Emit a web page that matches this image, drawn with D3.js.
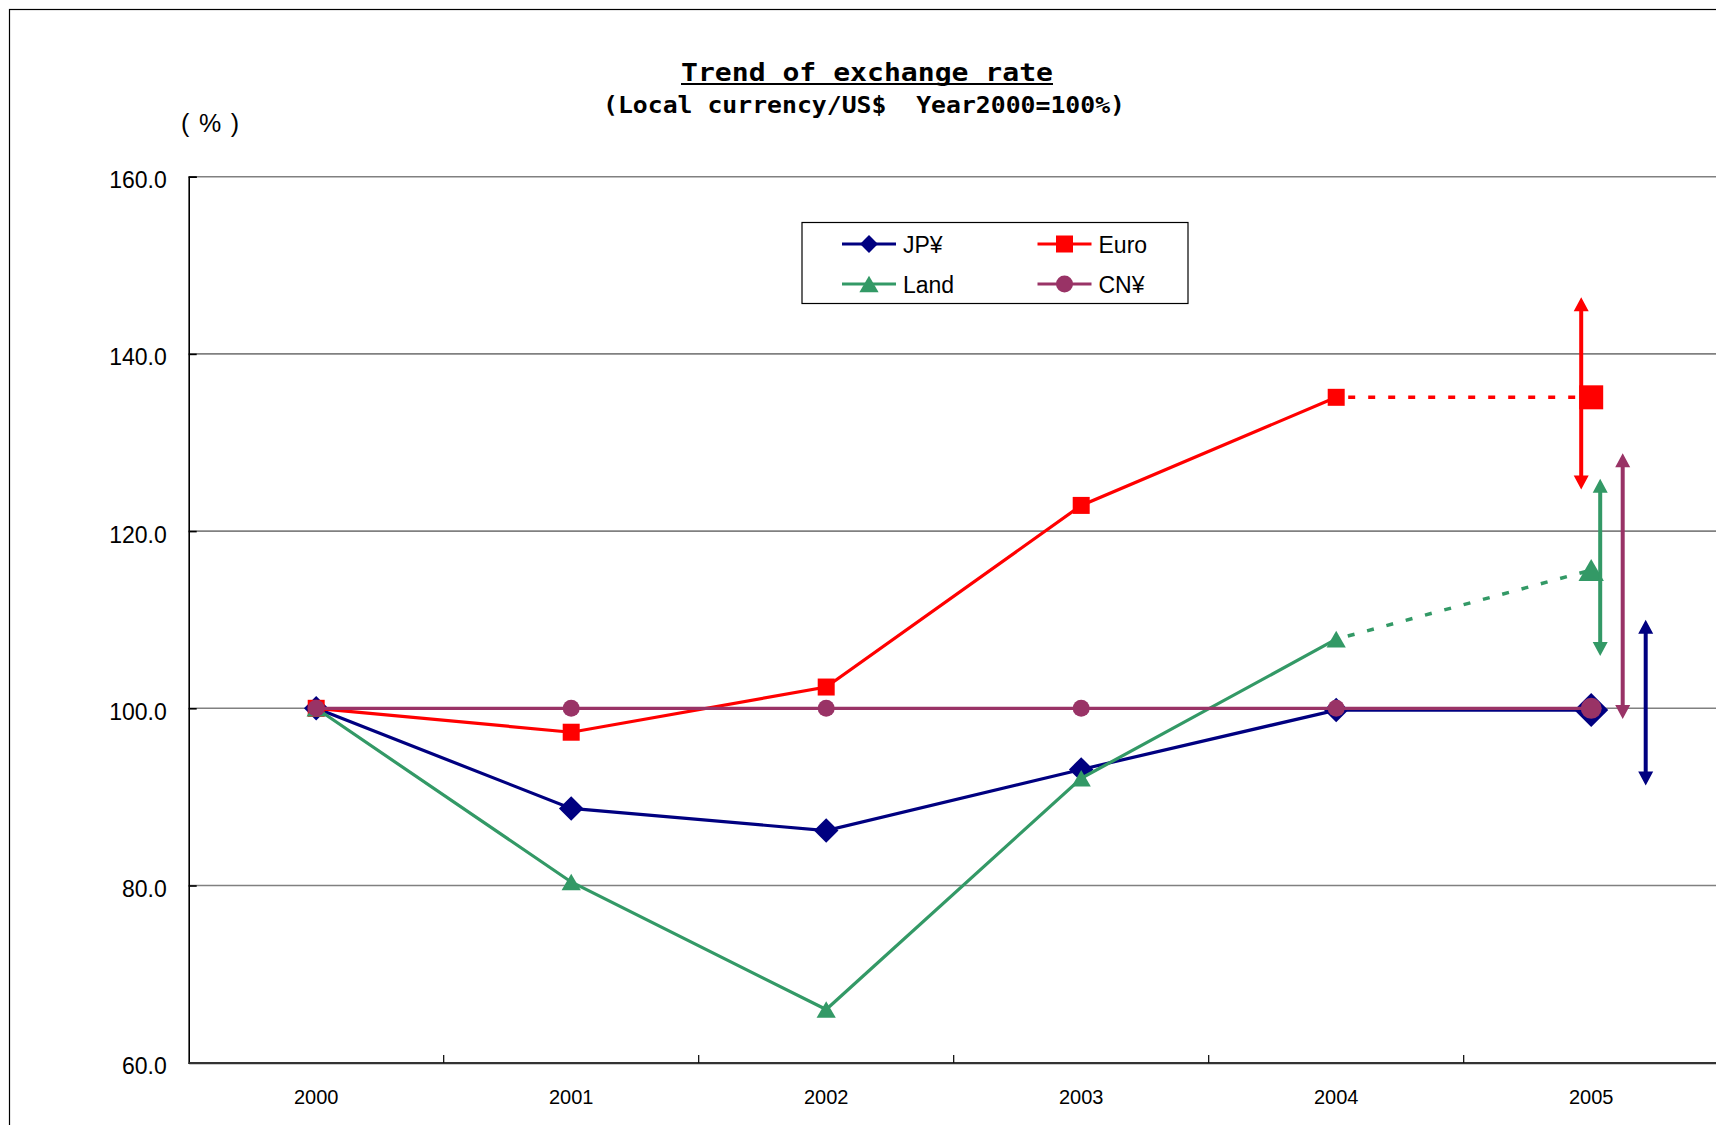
<!DOCTYPE html>
<html>
<head>
<meta charset="utf-8">
<script src="https://cdn.jsdelivr.net/npm/d3@7"></script>
<style>
  html, body { margin: 0; padding: 0; background: #fff; overflow: hidden; }
  svg { display: block; }
  text { white-space: pre; }
</style>
</head>
<body>
<svg id="chart" width="1716" height="1125"></svg>
<script>
// ---------- data ----------
const years = ["2000", "2001", "2002", "2003", "2004", "2005"];
const jpyValues  = [100, 88.7, 86.2, 93.1, 99.8, 99.8];
const euroValues = [100, 97.3, 102.4, 122.9, 135.1, 135.1];
const landValues = [100, 80.4, 66.0, 92.1, 107.8, 115.6];
const cnyValues  = [100, 100, 100, 100, 100, 100];
const seriesNames = ["JP¥", "Euro", "Land", "CN¥"];
const rangeHigh = [110.0, 146.4, 125.9, 128.8];   // forecast range arrows (upper end)
const rangeLow  = [91.3, 124.7, 105.9, 98.8];     // forecast range arrows (lower end)
const yTicks = [60, 80, 100, 120, 140, 160];
const titleText = "Trend of exchange rate";
const subtitleText = "(Local currency/US$\u00A0\u00A0Year2000=100%)";
const unitText = "(\u00A0%\u00A0)";

// ---------- styles ----------
const colors = ["#000080", "#FF0000", "#339966", "#993366"];
const symbols = [d3.symbolSquare, d3.symbolSquare, d3.symbolTriangle, d3.symbolCircle];
const rotate = [45, 0, 0, 0];
const markerSize = [300, 289, 160, 227];
const lastMarkerSize = [580, 576, 280, 346];
const dashedLast = [false, true, true, false];
const arrowOffset = [54.5, -10, 9, 31.5];

const seriesValues = [jpyValues, euroValues, landValues, cnyValues];

const svg = d3.select("#chart");

// outer chart border
svg.append("rect").attr("x", 9.5).attr("y", 9.5).attr("width", 1800).attr("height", 1200)
  .attr("fill", "none").attr("stroke", "#000").attr("stroke-width", 1.2);

const x = d3.scaleBand().domain(years).range([188.7, 1718.7]).padding(0);
const y = d3.scaleLinear().domain([60, 160]).range([1062.7, 176.7]);
const cx = d => x(d) + x.bandwidth() / 2;

// gridlines
svg.append("g").selectAll("line").data(yTicks.filter(v => v > 60)).join("line")
  .attr("x1", 188.7).attr("x2", 1716).attr("y1", d => y(d)).attr("y2", d => y(d))
  .attr("stroke", "#808080").attr("stroke-width", 1.6);

// y axis
const yAxis = svg.append("g").attr("transform", "translate(188.7,0)")
  .call(d3.axisLeft(y).tickValues(yTicks).tickFormat(d3.format(".1f")).tickSize(-8).tickPadding(22));
yAxis.select(".domain").attr("stroke", "#000").attr("stroke-width", 1.6);
yAxis.selectAll(".tick line").attr("stroke", "#000").attr("stroke-width", 1.6);
yAxis.selectAll(".tick text").attr("font-family", "'Liberation Sans', Arial, sans-serif")
  .attr("font-size", 23).attr("fill", "#000").attr("dy", "0.48em");

// x axis
const xAxis = svg.append("g").attr("transform", "translate(0,1062.7)")
  .call(d3.axisBottom(x).tickSize(0).tickPadding(27));
xAxis.select(".domain").attr("stroke", "#333").attr("stroke-width", 2.2);
xAxis.selectAll(".tick text").attr("font-family", "'Liberation Sans', Arial, sans-serif")
  .attr("font-size", 20).attr("fill", "#000");
// category boundary ticks
svg.append("g").selectAll("line").data(years.slice(1)).join("line")
  .attr("x1", d => x(d)).attr("x2", d => x(d)).attr("y1", 1055).attr("y2", 1062.7)
  .attr("stroke", "#000").attr("stroke-width", 1.2);

// series lines
const line = d3.line().x(d => cx(d.year)).y(d => y(d.value));
seriesValues.forEach((vals, si) => {
  const pts = years.map((yr, i) => ({ year: yr, value: vals[i] }));
  const n = pts.length;
  const g = svg.append("g");
  if (dashedLast[si]) {
    g.append("path").datum(pts.slice(0, n - 1)).attr("d", line)
      .attr("fill", "none").attr("stroke", colors[si]).attr("stroke-width", 3.2);
    g.append("path").datum(pts.slice(n - 2)).attr("d", line)
      .attr("fill", "none").attr("stroke", colors[si]).attr("stroke-width", 3.5)
      .attr("stroke-dasharray", "7,13").attr("stroke-dashoffset", -12);
  } else {
    g.append("path").datum(pts).attr("d", line)
      .attr("fill", "none").attr("stroke", colors[si]).attr("stroke-width", 3.2);
  }
  g.selectAll("path.mk").data(pts).join("path").attr("class", "mk")
    .attr("d", (d, i) => d3.symbol().type(symbols[si]).size(i === n - 1 ? lastMarkerSize[si] : markerSize[si])())
    .attr("transform", (d, i) => {
      const s = i === n - 1 ? lastMarkerSize[si] : markerSize[si];
      const dy = symbols[si] === d3.symbolTriangle ? Math.sqrt(s / (3 * Math.sqrt(3))) / 2 : 0;
      return `translate(${cx(d.year)},${y(d.value) + dy}) rotate(${rotate[si]})`;
    })
    .attr("fill", colors[si]);
});

// range arrows at the last year
const lastYear = years[years.length - 1];
const arrowG = svg.append("g");
seriesNames.forEach((nm, si) => {
  const ax = cx(lastYear) + arrowOffset[si];
  const yTop = y(rangeHigh[si]);
  const yBot = y(rangeLow[si]);
  const headL = 14, headW = 7.5;
  arrowG.append("line").attr("x1", ax).attr("x2", ax).attr("y1", yTop + headL - 1).attr("y2", yBot - headL + 1)
    .attr("stroke", colors[si]).attr("stroke-width", 4);
  const p = d3.path();
  p.moveTo(ax, yTop); p.lineTo(ax - headW, yTop + headL); p.lineTo(ax + headW, yTop + headL); p.closePath();
  p.moveTo(ax, yBot); p.lineTo(ax - headW, yBot - headL); p.lineTo(ax + headW, yBot - headL); p.closePath();
  arrowG.append("path").attr("d", p.toString()).attr("fill", colors[si]);
});

// legend
const legend = svg.append("g");
legend.append("rect").attr("x", 802).attr("y", 222.5).attr("width", 386).attr("height", 81)
  .attr("fill", "#fff").attr("stroke", "#000").attr("stroke-width", 1.2);
const legendPos = [[869, 244], [1064.5, 244], [869, 284], [1064.5, 284]];
seriesNames.forEach((nm, si) => {
  const [lx, ly] = legendPos[si];
  legend.append("line").attr("x1", lx - 27).attr("x2", lx + 27).attr("y1", ly).attr("y2", ly)
    .attr("stroke", colors[si]).attr("stroke-width", 3.2);
  const s = markerSize[si];
  const dy = symbols[si] === d3.symbolTriangle ? Math.sqrt(s / (3 * Math.sqrt(3))) / 2 : 0;
  legend.append("path").attr("d", d3.symbol().type(symbols[si]).size(si === 0 ? 160 : s)())
    .attr("transform", `translate(${lx},${ly + dy}) rotate(${rotate[si]})`)
    .attr("fill", colors[si]);
  legend.append("text").attr("x", lx + 34).attr("y", ly + 8.7)
    .attr("font-family", "'Liberation Sans', Arial, sans-serif").attr("font-size", 23)
    .attr("fill", "#000").text(nm);
});

// titles
svg.append("text").attr("x", 681).attr("y", 80.7).attr("textLength", 372).attr("lengthAdjust", "spacingAndGlyphs")
  .attr("font-family", "'DejaVu Sans Mono', monospace").attr("font-weight", "bold").attr("font-size", 25)
  .attr("fill", "#000").text(titleText);
svg.append("line").attr("x1", 681).attr("x2", 1053).attr("y1", 84).attr("y2", 84)
  .attr("stroke", "#000").attr("stroke-width", 2);
svg.append("text").attr("x", 603).attr("y", 113).attr("textLength", 522).attr("lengthAdjust", "spacingAndGlyphs")
  .attr("font-family", "'DejaVu Sans Mono', monospace").attr("font-weight", "bold").attr("font-size", 23)
  .attr("fill", "#000").text(subtitleText);
svg.append("text").attr("x", 181).attr("y", 132).attr("textLength", 58).attr("lengthAdjust", "spacing")
  .attr("font-family", "'Liberation Sans', Arial, sans-serif").attr("font-size", 25)
  .attr("fill", "#000").text(unitText);
</script>
</body>
</html>
